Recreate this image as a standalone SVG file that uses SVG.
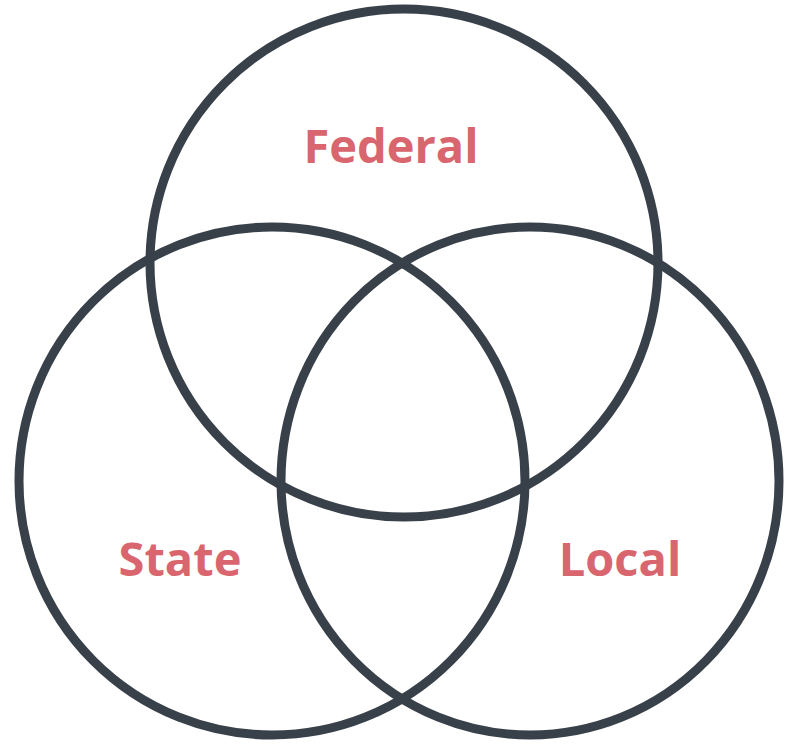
<svg xmlns="http://www.w3.org/2000/svg" width="786" height="744" viewBox="0 0 786 744">
<style>
.c{fill:none;stroke:#384049;stroke-width:9}
.t{font-family:"Open Sans","Noto Sans",sans-serif;font-weight:700;font-size:47px;fill:#d9666e;text-anchor:middle}
</style>
<rect width="786" height="744" fill="#ffffff"/>
<g id="connectors"></g>
<g id="federal"><circle class="c" cx="404" cy="263" r="254"/><text class="t" x="391" y="163">Federal</text></g>
<g id="state"><ellipse class="c" cx="272" cy="481" rx="253" ry="254"/><text class="t" x="180" y="576">State</text></g>
<g id="local"><ellipse class="c" cx="530" cy="481" rx="249" ry="254"/><text class="t" x="620" y="576">Local</text></g>
</svg>
